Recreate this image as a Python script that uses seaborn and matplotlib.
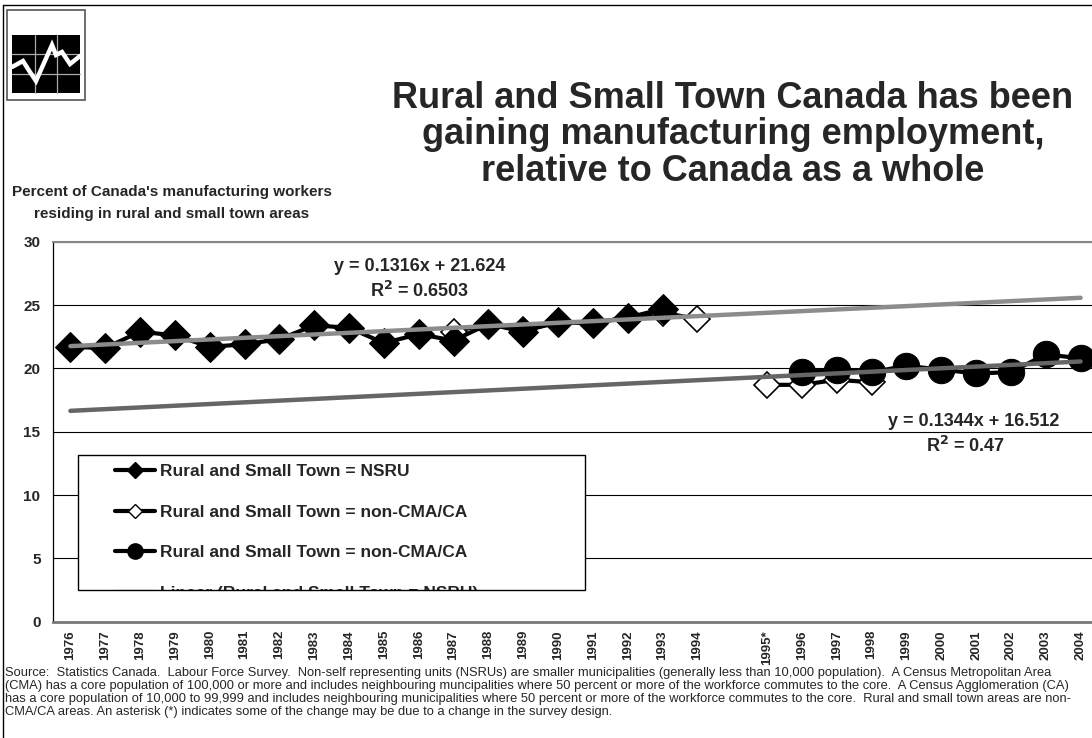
import matplotlib
matplotlib.use("Agg")
import matplotlib.pyplot as plt
import seaborn as sns
import numpy as np
import pandas as pd
from matplotlib.lines import Line2D
from matplotlib.patches import Rectangle

# ---------------- data ----------------
categories = ["1976", "1977", "1978", "1979", "1980", "1981", "1982", "1983", "1984",
              "1985", "1986", "1987", "1988", "1989", "1990", "1991", "1992", "1993",
              "1994", "", "1995*", "1996", "1997", "1998", "1999", "2000", "2001",
              "2002", "2003", "2004"]

nsru_years = ["1976", "1977", "1978", "1979", "1980", "1981", "1982", "1983", "1984",
              "1985", "1986", "1987", "1988", "1989", "1990", "1991", "1992", "1993"]
nsru_values = [21.7, 21.6, 22.9, 22.6, 21.7, 21.9, 22.3, 23.4, 23.2,
               22.0, 22.7, 22.2, 23.5, 22.9, 23.7, 23.6, 24.0, 24.7]

old_cma_years = ["1987", "1988", "1989", "1990", "1991", "1992", "1993", "1994"]
old_cma_values = [22.9, 23.5, 23.0, 23.6, 23.6, 24.0, 24.4, 23.9]

mid_cma_years = ["1995*", "1996", "1997", "1998"]
mid_cma_values = [18.7, 18.7, 19.1, 18.9]

new_cma_years = ["1996", "1997", "1998", "1999", "2000", "2001", "2002", "2003", "2004"]
new_cma_values = [19.7, 19.9, 19.7, 20.2, 19.9, 19.6, 19.7, 21.1, 20.8]

nsru_trend_slope, nsru_trend_intercept = 0.1316, 21.624
cma_trend_slope, cma_trend_intercept = 0.1344, 16.512

legend_labels = ["Rural and Small Town = NSRU",
                 "Rural and Small Town = non-CMA/CA",
                 "Rural and Small Town = non-CMA/CA",
                 "Linear (Rural and Small Town = NSRU)"]

title_text = ("Rural and Small Town Canada has been\n"
              "gaining manufacturing employment,\n"
              "relative to Canada as a whole")
ylabel_text = ("Percent of Canada's manufacturing workers\n"
               "residing in rural and small town areas")
footnote_lines = [
    "Source:  Statistics Canada.  Labour Force Survey.  Non-self representing units (NSRUs) are smaller municipalities (generally less than 10,000 population).  A Census Metropolitan Area",
    "(CMA) has a core population of 100,000 or more and includes neighbouring muncipalities where 50 percent or more of the workforce commutes to the core.  A Census Agglomeration (CA)",
    "has a core population of 10,000 to 99,999 and includes neighbouring municipalities where 50 percent or more of the workforce commutes to the core.  Rural and small town areas are non-",
    "CMA/CA areas. An asterisk (*) indicates some of the change may be due to a change in the survey design.",
]

# ---------------- setup ----------------
sns.set_style("white")
plt.rcParams["font.family"] = ["Liberation Sans", "DejaVu Sans"]

W, H = 1092, 738
fig = plt.figure(figsize=(W / 100, H / 100), dpi=100)
fig.patch.set_facecolor("white")


def fx(x):
    return x / W


def fy(y):
    return 1 - y / H


ax_left, ax_right, ax_top, ax_bottom = 53, 1098, 241.7, 621.7
ax = fig.add_axes([fx(ax_left), fy(ax_bottom), fx(ax_right - ax_left), (ax_bottom - ax_top) / H])

pos = {c: i for i, c in enumerate(categories)}


def frame(years, values):
    return pd.DataFrame({"x": [pos[y] for y in years], "y": values})


d_nsru = frame(nsru_years, nsru_values)
d_old = frame(old_cma_years, old_cma_values)
d_mid = frame(mid_cma_years, mid_cma_values)
d_new = frame(new_cma_years, new_cma_values)

# hollow diamonds (underneath)
for d in (d_old, d_mid):
    sns.lineplot(data=d, x="x", y="y", ax=ax, color="black", linewidth=3,
                 marker="D", markersize=13, markerfacecolor="white",
                 markeredgecolor="black", markeredgewidth=1.2, zorder=3)
# filled diamonds
sns.lineplot(data=d_nsru, x="x", y="y", ax=ax, color="black", linewidth=3,
             marker="D", markersize=15, markerfacecolor="black",
             markeredgecolor="black", zorder=4)
# circles
sns.lineplot(data=d_new, x="x", y="y", ax=ax, color="black", linewidth=3,
             marker="o", markersize=19, markerfacecolor="black",
             markeredgecolor="black", zorder=5)

# trend lines
idx = np.arange(len(categories))
t1 = pd.DataFrame({"x": idx, "y": nsru_trend_slope * (idx + 1) + nsru_trend_intercept})
t2 = pd.DataFrame({"x": idx, "y": cma_trend_slope * (idx + 1) + cma_trend_intercept})
sns.lineplot(data=t1, x="x", y="y", ax=ax, color="#8c8c8c", linewidth=3.2, zorder=6)
sns.lineplot(data=t2, x="x", y="y", ax=ax, color="#666666", linewidth=3.2, zorder=6)

# axes styling
ax.set_xlim(-0.5, len(categories) - 0.5)
ax.set_ylim(0, 30)
ax.set_yticks([0, 5, 10, 15, 20, 25, 30])
ax.set_yticklabels(["0", "5", "10", "15", "20", "25", "30"], fontsize=11, fontweight="bold")
ax.set_xticks(idx)
ax.set_xticklabels(categories, rotation=90, fontsize=9.5, fontweight="bold")
ax.set_xticks(np.arange(len(categories) + 1) - 0.5, minor=True)
ax.tick_params(axis="x", which="major", length=0, pad=6)
ax.tick_params(axis="x", which="minor", length=5, width=1.2, color="#666666", direction="out")
ax.tick_params(axis="y", which="major", length=4, width=0.8, color="black", direction="out", pad=5)
ax.set_xlabel("")
ax.set_ylabel("")
ax.yaxis.grid(True, color="black", linewidth=0.8)
ax.xaxis.grid(False)
ax.set_axisbelow(True)
ax.spines["left"].set_color("black")
ax.spines["left"].set_linewidth(0.9)
ax.spines["bottom"].set_color("#777777")
ax.spines["bottom"].set_linewidth(2)
ax.spines["top"].set_color("#888888")
ax.spines["top"].set_linewidth(1.5)
ax.spines["right"].set_visible(False)
ax.patch.set_alpha(0)

# trend equations
fig.text(fx(420), fy(266), "y = 0.1316x + 21.624", ha="center", va="center",
         fontsize=13, fontweight="bold")
fig.text(fx(420), fy(291), "R$^\\mathbf{2}$ = 0.6503", ha="center", va="center",
         fontsize=13, fontweight="bold")
fig.text(fx(974), fy(421), "y = 0.1344x + 16.512", ha="center", va="center",
         fontsize=13, fontweight="bold")
fig.text(fx(966), fy(446), "R$^\\mathbf{2}$ = 0.47", ha="center", va="center",
         fontsize=13, fontweight="bold")

# legend
handles = [
    Line2D([], [], color="black", lw=3, marker="D", ms=8, mfc="black", mec="black"),
    Line2D([], [], color="black", lw=3, marker="D", ms=7, mfc="white", mec="black"),
    Line2D([], [], color="black", lw=3, marker="o", ms=11, mfc="black", mec="black"),
    Line2D([], [], color="#8c8c8c", lw=3),
]
fig.add_artist(Rectangle((fx(78), fy(590)), fx(585 - 78), (590 - 455) / H,
                         transform=fig.transFigure, facecolor="white",
                         edgecolor="none", zorder=2))
leg = fig.legend(handles, legend_labels, loc="upper left",
                 bbox_to_anchor=(fx(115), fy(464)), bbox_transform=fig.transFigure,
                 frameon=False, borderpad=0, borderaxespad=0,
                 handlelength=2.3, handletextpad=0.3, labelspacing=1.46,
                 prop={"weight": "bold", "size": 12.5})
leg.set_zorder(5)
fig.add_artist(Rectangle((fx(76), fy(615)), fx(590 - 76), (615 - 591) / H,
                         transform=fig.transFigure, facecolor="white",
                         edgecolor="none", zorder=6))
fig.add_artist(Rectangle((fx(78), fy(590)), fx(585 - 78), (590 - 455) / H,
                         transform=fig.transFigure, facecolor="none",
                         edgecolor="black", linewidth=1, zorder=7))

# titles
fig.text(fx(733), fy(135), title_text, ha="center", va="center", fontsize=26,
         fontweight="bold", linespacing=1.06)
fig.text(fx(172), fy(203), ylabel_text, ha="center", va="center", fontsize=11,
         fontweight="bold", linespacing=1.75)

# footnote
fig.text(fx(5), fy(667), "\n".join(footnote_lines), ha="left", va="top",
         fontsize=9.3, linespacing=1.1,
         family=["Liberation Sans Narrow", "Liberation Sans", "DejaVu Sans"])

# outer border
fig.add_artist(Line2D([fx(3), fx(3)], [fy(5), fy(738)], transform=fig.transFigure,
                      color="black", lw=1))
fig.add_artist(Line2D([fx(3), fx(1092)], [fy(5), fy(5)], transform=fig.transFigure,
                      color="black", lw=1))

# logo
fig.add_artist(Rectangle((fx(7), fy(100)), fx(78), 90 / H, transform=fig.transFigure,
                         facecolor="white", edgecolor="#555555", lw=1.2, zorder=3))
fig.add_artist(Rectangle((fx(12), fy(93)), fx(68), 58 / H, transform=fig.transFigure,
                         facecolor="black", edgecolor="none", zorder=4))
for gx in (34.7, 57.3):
    fig.add_artist(Line2D([fx(gx), fx(gx)], [fy(35), fy(93)], transform=fig.transFigure,
                          color="#aaaaaa", lw=0.9, zorder=5))
for gy in (54.3, 73.7):
    fig.add_artist(Line2D([fx(12), fx(80)], [fy(gy), fy(gy)], transform=fig.transFigure,
                          color="#aaaaaa", lw=0.9, zorder=5))
zx = [12, 23, 28, 36, 52, 56, 62, 70, 80]
zy = [67, 61, 69, 81, 45, 55, 52, 64, 56]
fig.add_artist(Line2D([fx(v) for v in zx], [fy(v) for v in zy], transform=fig.transFigure,
                      color="white", lw=3.2, zorder=6, solid_joinstyle="miter"))

fig.savefig("out.png", dpi=100, facecolor="white")
